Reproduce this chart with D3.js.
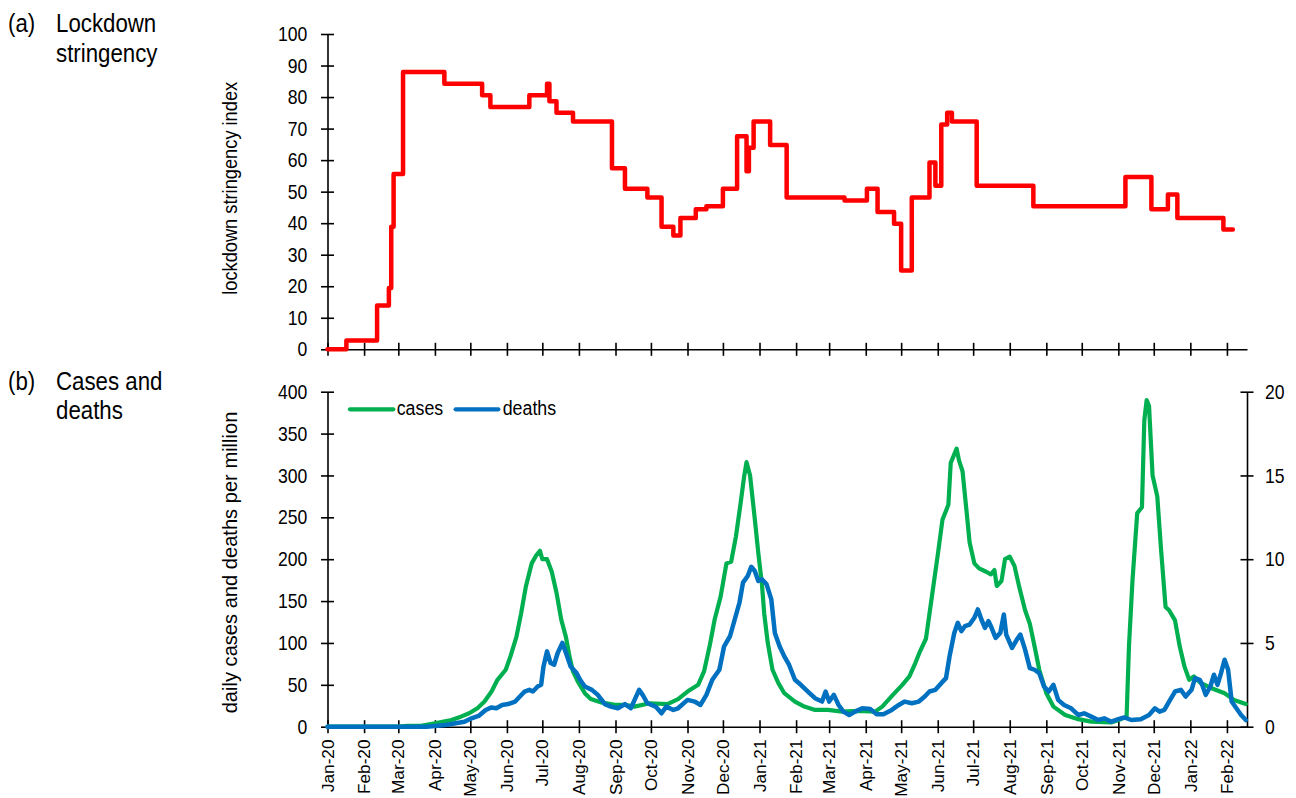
<!DOCTYPE html>
<html>
<head>
<meta charset="utf-8">
<script src="https://cdn.jsdelivr.net/npm/d3@7"></script>
<style>
  html, body { margin: 0; padding: 0; background: #fff; }
  svg { display: block; font-family: Arial, "Liberation Sans", sans-serif; }
</style>
</head>
<body>
<svg id="chart" width="1296" height="798"></svg>
<script>
// ---------- data ----------
// Lockdown stringency index: dates where the index changes, and the new level
const stringencyDates = [
  "2020-01-01","2020-01-17","2020-02-12","2020-02-22","2020-02-24","2020-02-26","2020-03-05",
  "2020-04-09","2020-05-11","2020-05-18","2020-06-20","2020-07-05","2020-07-07","2020-07-13",
  "2020-07-27","2020-08-29","2020-09-09","2020-09-28","2020-10-10","2020-10-20","2020-10-26",
  "2020-11-08","2020-11-17","2020-12-01","2020-12-13","2020-12-21","2020-12-23","2020-12-27",
  "2021-01-10","2021-01-24","2021-03-14","2021-04-02","2021-04-11","2021-04-25","2021-05-01",
  "2021-05-10","2021-05-25","2021-05-30","2021-06-04","2021-06-09","2021-06-13","2021-07-04",
  "2021-08-21","2021-11-07","2021-11-29","2021-12-13","2021-12-21","2022-01-29","2022-02-06"
];
const stringencyValues = [
  0, 2.78, 13.89, 19.44, 38.89, 55.56, 87.96,
  84.26, 80.56, 76.85, 80.56, 84.26, 78.7, 75.0,
  72.22, 57.41, 50.93, 48.15, 38.89, 36.11, 41.67,
  44.44, 45.37, 50.93, 67.59, 56.48, 63.89, 72.22,
  64.81, 48.15, 47.22, 50.93, 43.52, 39.81, 25.0,
  48.15, 59.26, 51.85, 71.3, 75.0, 72.22, 51.85,
  45.37, 54.63, 44.44, 49.07, 41.67, 37.96, 37.96
];

// Daily cases per million (7-day average)
const caseDates = [
  "2020-01-01","2020-03-01","2020-03-09","2020-03-20","2020-04-01","2020-04-15","2020-04-23","2020-04-30",
  "2020-05-07","2020-05-13","2020-05-19","2020-05-24","2020-05-31","2020-06-04","2020-06-09","2020-06-13",
  "2020-06-17","2020-06-22","2020-06-26","2020-06-29","2020-07-01","2020-07-05","2020-07-09","2020-07-13",
  "2020-07-17","2020-07-21","2020-07-24","2020-07-27","2020-07-31","2020-08-06","2020-08-11","2020-08-20",
  "2020-08-31","2020-09-09","2020-09-17","2020-09-30","2020-10-15","2020-10-24","2020-11-01","2020-11-10",
  "2020-11-15","2020-11-20","2020-11-24","2020-11-29","2020-12-04","2020-12-08","2020-12-12","2020-12-16",
  "2020-12-19","2020-12-21","2020-12-24","2020-12-28","2020-12-31","2021-01-03","2021-01-05","2021-01-08",
  "2021-01-12","2021-01-17","2021-01-22","2021-01-31","2021-02-08","2021-02-17","2021-02-28","2021-03-12",
  "2021-03-26","2021-04-09","2021-04-15","2021-04-24","2021-05-02","2021-05-08","2021-05-13","2021-05-17",
  "2021-05-22","2021-05-27","2021-06-01","2021-06-05","2021-06-10","2021-06-12","2021-06-17","2021-06-19",
  "2021-06-22","2021-06-25","2021-06-28","2021-07-02","2021-07-06","2021-07-12","2021-07-16","2021-07-19",
  "2021-07-21","2021-07-25","2021-07-28","2021-08-01","2021-08-05","2021-08-09","2021-08-14","2021-08-18",
  "2021-08-22","2021-08-26","2021-09-01","2021-09-07","2021-09-17","2021-09-28","2021-10-09","2021-10-26",
  "2021-11-03","2021-11-08","2021-11-10","2021-11-13","2021-11-17","2021-11-21","2021-11-23","2021-11-25",
  "2021-11-27","2021-11-30","2021-12-04","2021-12-07","2021-12-11","2021-12-14","2021-12-19","2021-12-23",
  "2021-12-27","2021-12-31","2022-01-04","2022-01-10","2022-01-19","2022-01-30","2022-02-07","2022-02-17"
];
const caseValues = [
  0, 0, 1, 1, 4, 8, 12, 16,
  22, 30, 42, 56, 68, 84, 107, 135,
  167, 195, 205, 210, 200, 200, 185, 160,
  128, 107, 84, 66, 54, 40, 33, 29,
  26, 26, 24, 28, 27, 33, 42, 50,
  66, 98, 128, 155, 195, 197, 227, 267,
  299, 316, 300, 248, 207, 171, 135, 100,
  68, 52, 40, 30, 24, 20, 20, 18,
  19, 18, 24, 38, 50, 60, 76, 90,
  105, 155, 205, 247, 265, 315, 332, 318,
  305, 263, 220, 195, 189, 185, 182, 187,
  168, 174, 200, 203, 192, 167, 139, 123,
  96, 68, 40, 24, 14, 9, 6, 5,
  9, 12, 96, 175, 255, 262, 366, 390,
  383, 300, 275, 215, 143, 139, 127, 96,
  72, 56, 60, 52, 46, 40, 32, 27
];

// Daily deaths per million (7-day average), right-hand axis
const deathDates = [
  "2020-01-01","2020-03-25","2020-04-10","2020-04-26","2020-05-02","2020-05-08","2020-05-14","2020-05-19",
  "2020-05-23","2020-05-28","2020-06-02","2020-06-08","2020-06-12","2020-06-16","2020-06-20","2020-06-23",
  "2020-06-27","2020-06-30","2020-07-02","2020-07-05","2020-07-08","2020-07-11","2020-07-14","2020-07-18",
  "2020-07-22","2020-07-25","2020-07-30","2020-08-02","2020-08-06","2020-08-12","2020-08-17","2020-08-23",
  "2020-08-28","2020-09-03","2020-09-09","2020-09-14","2020-09-21","2020-09-24","2020-09-28","2020-10-05",
  "2020-10-10","2020-10-14","2020-10-20","2020-10-24","2020-11-01","2020-11-07","2020-11-12","2020-11-17",
  "2020-11-22","2020-11-28","2020-12-02","2020-12-07","2020-12-11","2020-12-15","2020-12-18","2020-12-22",
  "2020-12-25","2020-12-28","2020-12-31","2021-01-03","2021-01-07","2021-01-11","2021-01-14","2021-01-18",
  "2021-01-22","2021-01-26","2021-01-31","2021-02-05","2021-02-11","2021-02-17","2021-02-23","2021-02-26",
  "2021-03-01","2021-03-05","2021-03-09","2021-03-13","2021-03-18","2021-03-23","2021-03-29","2021-04-05",
  "2021-04-10","2021-04-16","2021-04-23","2021-04-29","2021-05-04","2021-05-10","2021-05-16","2021-05-21",
  "2021-05-25","2021-05-30","2021-06-04","2021-06-08","2021-06-11","2021-06-15","2021-06-18","2021-06-21",
  "2021-06-24","2021-06-28","2021-07-02","2021-07-05","2021-07-08","2021-07-11","2021-07-14","2021-07-16",
  "2021-07-20","2021-07-24","2021-07-27","2021-07-29","2021-08-03","2021-08-07","2021-08-10","2021-08-14",
  "2021-08-18","2021-08-22","2021-08-26","2021-08-30","2021-09-03","2021-09-07","2021-09-11","2021-09-16",
  "2021-09-22","2021-09-28","2021-10-03","2021-10-09","2021-10-15","2021-10-20","2021-10-26","2021-11-01",
  "2021-11-06","2021-11-12","2021-11-20","2021-11-27","2021-12-02","2021-12-06","2021-12-10","2021-12-14",
  "2021-12-19","2021-12-24","2021-12-28","2022-01-02","2022-01-05","2022-01-09","2022-01-11","2022-01-14",
  "2022-01-18","2022-01-21","2022-01-24","2022-01-27","2022-01-30","2022-02-02","2022-02-05","2022-02-09",
  "2022-02-13","2022-02-17"
];
const deathValues = [
  0, 0, 0.1, 0.3, 0.5, 0.64, 1.0, 1.15,
  1.1, 1.3, 1.35, 1.5, 1.8, 2.1, 2.2, 2.1,
  2.4, 2.5, 3.6, 4.5, 3.8, 3.7, 4.4, 5.0,
  4.2, 3.6, 3.2, 2.8, 2.4, 2.2, 1.9, 1.35,
  1.2, 1.1, 1.35, 1.1, 2.2, 1.9, 1.4, 1.2,
  0.8, 1.2, 1.0, 1.1, 1.6, 1.5, 1.3, 1.9,
  2.8, 3.4, 4.8, 5.4, 6.4, 7.4, 8.6, 9.0,
  9.55, 9.3, 8.7, 8.8, 8.5, 7.6, 5.6, 4.8,
  4.2, 3.7, 2.8, 2.5, 2.1, 1.7, 1.5, 2.1,
  1.5, 1.9, 1.3, 0.9, 0.7, 0.9, 1.1, 1.05,
  0.75, 0.75, 1.0, 1.3, 1.5, 1.4, 1.5, 1.8,
  2.1, 2.2, 2.6, 2.9, 4.2, 5.6, 6.2, 5.7,
  6.0, 6.1, 6.5, 7.0, 6.4, 5.9, 6.3, 6.0,
  5.3, 5.6, 6.7, 5.5, 4.7, 5.2, 5.5, 4.6,
  3.5, 3.4, 3.2, 2.4, 2.1, 2.5, 1.6, 1.3,
  1.1, 0.7, 0.8, 0.6, 0.4, 0.5, 0.3, 0.45,
  0.55, 0.4, 0.45, 0.7, 1.1, 0.9, 1.0, 1.5,
  2.1, 2.2, 1.8, 2.2, 2.9, 2.8, 2.5, 1.9,
  2.4, 3.1, 2.5, 3.2, 4.0, 3.4, 1.5, 1.1,
  0.7, 0.4
];

// Axis ticks
const stringencyTicks = [0, 10, 20, 30, 40, 50, 60, 70, 80, 90, 100];
const casesTicks = [0, 50, 100, 150, 200, 250, 300, 350, 400];
const deathsTicks = [0, 5, 10, 15, 20];
const monthStart = "2020-01-01", monthEnd = "2022-02-01";

// ---------- setup ----------
const parse = d3.utcParse("%Y-%m-%d");
const zip = (ds, vs) => ds.map((d, i) => ({ date: parse(d), value: vs[i] }));
const stringency = zip(stringencyDates, stringencyValues);
const cases = zip(caseDates, caseValues);
const deaths = zip(deathDates, deathValues);
const months = d3.utcMonth.range(parse(monthStart), d3.utcDay.offset(parse(monthEnd), 1));

const svg = d3.select("#chart");
const x = d3.scaleUtc().domain([parse("2020-01-01"), parse("2022-02-18")]).range([327.5, 1247]);
const yA = d3.scaleLinear().domain([0, 100]).range([349.3, 34]);
const yB = d3.scaleLinear().domain([0, 400]).range([726.7, 391.7]);
const yR = d3.scaleLinear().domain([0, 20]).range([726.7, 391.7]);

const RED = "#ff0000", GREEN = "#00b050", BLUE = "#0070c0";
const TICK = 6.5;

// text helper: sx compresses/extends glyphs along the writing direction
function label(g, px, py, s, o) {
  const t = g.append("text")
    .attr("transform", `translate(${px},${py}) rotate(${o.rotate || 0}) scale(${o.sx || 1},1)`)
    .attr("font-size", o.size)
    .attr("text-anchor", o.anchor || "start")
    .attr("fill", "#000")
    .text(s);
  if (o.dy) t.attr("dy", o.dy);
  return t;
}

function styleAxis(g) {
  g.select(".domain").attr("stroke", "#000").attr("stroke-width", 1.6);
  g.selectAll(".tick line").attr("stroke", "#000").attr("stroke-width", 1.6);
}

// ---------- panel titles ----------
const titles = svg.append("g");
const tOpt = { size: 25.3, sx: 0.88 };
label(titles, 8, 31.5, "(a)", tOpt);
label(titles, 56, 31.5, "Lockdown", tOpt);
label(titles, 56, 61.7, "stringency", tOpt);
label(titles, 8, 390, "(b)", tOpt);
label(titles, 56, 390, "Cases and", tOpt);
label(titles, 56, 419, "deaths", tOpt);

// ---------- panel (a): stringency ----------
const gA = svg.append("g");
const axAx = gA.append("g").attr("transform", `translate(0,${yA(0)})`)
  .call(d3.axisBottom(x).tickValues(months).tickFormat("").tickSize(TICK).tickSizeOuter(0));
axAx.selectAll(".tick line").attr("y1", -TICK);
styleAxis(axAx);

const ayA = gA.append("g").attr("transform", `translate(${x.range()[0]},0)`)
  .call(d3.axisLeft(yA).tickValues(stringencyTicks).tickFormat("").tickSize(TICK).tickSizeOuter(0));
ayA.selectAll(".tick line").attr("x1", TICK);
styleAxis(ayA);
stringencyTicks.forEach(v => label(gA, 307.3, yA(v), v, { size: 20, sx: 0.88, anchor: "end", dy: "0.358em" }));

gA.append("text")
  .attr("transform", `translate(237,188.3) rotate(-90)`)
  .attr("font-size", 20).attr("text-anchor", "middle")
  .attr("textLength", 213).attr("lengthAdjust", "spacingAndGlyphs")
  .text("lockdown stringency index");

gA.append("path").datum(stringency)
  .attr("fill", "none").attr("stroke", RED).attr("stroke-width", 4.5)
  .attr("stroke-linejoin", "round").attr("stroke-linecap", "round")
  .attr("d", d3.line().x(d => x(d.date)).y(d => yA(d.value)).curve(d3.curveStepAfter));

// ---------- panel (b): cases and deaths ----------
const gB = svg.append("g");
const axB = gB.append("g").attr("transform", `translate(0,${yB(0)})`)
  .call(d3.axisBottom(x).tickValues(months).tickFormat("").tickSize(TICK).tickSizeOuter(0));
axB.selectAll(".tick line").attr("y1", -TICK);
styleAxis(axB);
const fmt = d3.utcFormat("%b-%y");
months.forEach(m => label(gB, x(m), 739.5, fmt(m), { size: 17.2, sx: 1.0, anchor: "end", rotate: -90, dy: "0.358em" }));

const ayB = gB.append("g").attr("transform", `translate(${x.range()[0]},0)`)
  .call(d3.axisLeft(yB).tickValues(casesTicks).tickFormat("").tickSize(TICK).tickSizeOuter(0));
ayB.selectAll(".tick line").attr("x1", TICK);
styleAxis(ayB);
casesTicks.forEach(v => label(gB, 307.3, yB(v), v, { size: 20, sx: 0.88, anchor: "end", dy: "0.358em" }));

const ayR = gB.append("g").attr("transform", `translate(${x.range()[1]},0)`)
  .call(d3.axisRight(yR).tickValues(deathsTicks).tickFormat("").tickSize(TICK).tickSizeOuter(0));
ayR.selectAll(".tick line").attr("x1", -TICK);
styleAxis(ayR);
deathsTicks.forEach(v => label(gB, 1265, yR(v), v, { size: 20, sx: 0.88, anchor: "start", dy: "0.358em" }));

gB.append("text")
  .attr("transform", `translate(237,562.5) rotate(-90)`)
  .attr("font-size", 20).attr("text-anchor", "middle")
  .attr("textLength", 301.7).attr("lengthAdjust", "spacingAndGlyphs")
  .text("daily cases and deaths per million");

gB.append("path").datum(cases)
  .attr("fill", "none").attr("stroke", GREEN).attr("stroke-width", 4.2)
  .attr("stroke-linejoin", "round").attr("stroke-linecap", "round")
  .attr("d", d3.line().x(d => x(d.date)).y(d => yB(d.value)));

gB.append("path").datum(deaths)
  .attr("fill", "none").attr("stroke", BLUE).attr("stroke-width", 4.5)
  .attr("stroke-linejoin", "round").attr("stroke-linecap", "round")
  .attr("d", d3.line().x(d => x(d.date)).y(d => yR(d.value)));

// ---------- legend ----------
const leg = svg.append("g");
const legendItems = [
  { name: "cases", color: GREEN, x0: 350, x1: 393.3, tx: 396.7 },
  { name: "deaths", color: BLUE, x0: 455.7, x1: 498.3, tx: 502.7 }
];
legendItems.forEach(it => {
  leg.append("line").attr("x1", it.x0).attr("x2", it.x1).attr("y1", 409.3).attr("y2", 409.3)
    .attr("stroke", it.color).attr("stroke-width", 4.3).attr("stroke-linecap", "round");
  label(leg, it.tx, 415.3, it.name, { size: 20, sx: 0.89 });
});
</script>
</body>
</html>
